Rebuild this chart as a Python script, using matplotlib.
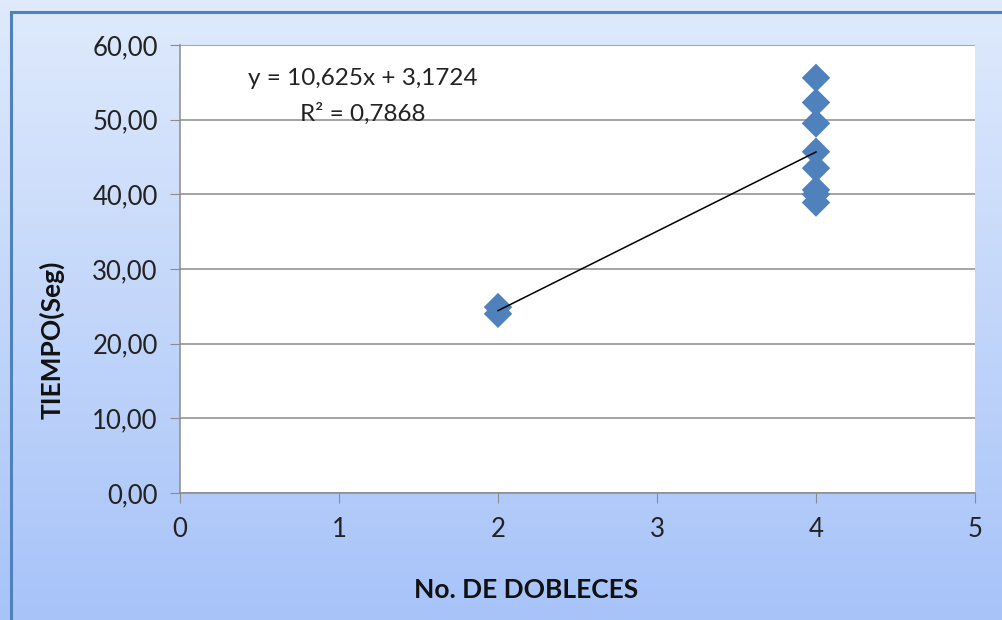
import numpy as np
import matplotlib.pyplot as plt
from matplotlib.patches import Rectangle
from matplotlib.ticker import FuncFormatter

plt.rcParams['font.family'] = ['Lato', 'DejaVu Sans']

# Data: number of folds vs. time (seconds)
dobleces = [2, 2, 4, 4, 4, 4, 4, 4, 4, 4]
tiempo = [24.9, 24.0, 55.6, 52.3, 49.5, 45.7, 43.5, 40.6, 40.0, 38.9]

# Linear trend line as stated
pendiente = 10.625
intercepto = 3.1724
r2 = 0.7868

x_ticks = [0, 1, 2, 3, 4, 5]
y_ticks = [0, 10, 20, 30, 40, 50, 60]

W, H = 1003, 620
fig = plt.figure(figsize=(W / 100, H / 100), dpi=100)

# Chart-area background: vertical gradient with a blue frame
bg = fig.add_axes([0, 0, 1, 1], zorder=0)
bg.set_axis_off()
grad = np.linspace(0, 1, 256).reshape(-1, 1, 1)
top = np.array([0.875, 0.918, 0.988]).reshape(1, 1, 3)
bot = np.array([0.655, 0.765, 0.976]).reshape(1, 1, 3)
img = top * (1 - grad) + bot * grad
bg.imshow(img, aspect='auto', extent=[0, 1, 0, 1], origin='upper')
bg.set_xlim(0, 1)
bg.set_ylim(0, 1)
bg.add_patch(Rectangle((11 / W, -0.05), 1.1, 1 - 12 / H + 0.05,
                       fill=False, edgecolor='#4f81bd', linewidth=2.2,
                       transform=bg.transAxes))

# Plot area
left, right, topp, bottom = 180, 975, 45, 493
ax = fig.add_axes([left / W, 1 - bottom / H, (right - left) / W, (bottom - topp) / H], zorder=1)
ax.set_facecolor('white')
ax.set_xlim(0, 5)
ax.set_ylim(0, 60)
ax.set_xticks(x_ticks)
ax.set_yticks(y_ticks)
ax.yaxis.set_major_formatter(FuncFormatter(lambda v, p: f"{v:.2f}".replace('.', ',')))
ax.xaxis.set_major_formatter(FuncFormatter(lambda v, p: f"{int(v)}"))
ax.grid(axis='y', color='#8c8c8c', linewidth=1.1)
ax.set_axisbelow(True)
for s in ['top', 'right']:
    ax.spines[s].set_visible(False)
for s in ['left', 'bottom']:
    ax.spines[s].set_color('#8c8c8c')
    ax.spines[s].set_linewidth(1.1)
ax.tick_params(axis='both', direction='out', length=7, color='#8c8c8c',
               labelsize=18.5, labelcolor='#222222')
ax.tick_params(axis='x', pad=10)
ax.tick_params(axis='y', pad=9)

ax.scatter(dobleces, tiempo, marker='D', s=210, color='#4f81bd',
           edgecolors='none', zorder=3)

xs = np.array([min(dobleces), max(dobleces)])
ax.plot(xs, pendiente * xs + intercepto, color='black', linewidth=1.1, zorder=4)

ax.text(1.15, 55.5, f"y = {pendiente:.3f}x + {intercepto:.4f}".replace('.', ','),
        ha='center', va='center', fontsize=17.5, color='#222222')
ax.text(1.15, 50.8, f"R² = {r2:.4f}".replace('.', ','),
        ha='center', va='center', fontsize=17.5, color='#222222')

fig.text(52 / W, 1 - 340 / H, 'TIEMPO(Seg)', rotation=90, ha='center', va='center',
         fontsize=19, fontweight='bold', color='#111111')
fig.text(526 / W, 1 - 590 / H, 'No. DE DOBLECES', ha='center', va='center',
         fontsize=19, fontweight='bold', color='#111111')

fig.savefig('out.png', dpi=100)
